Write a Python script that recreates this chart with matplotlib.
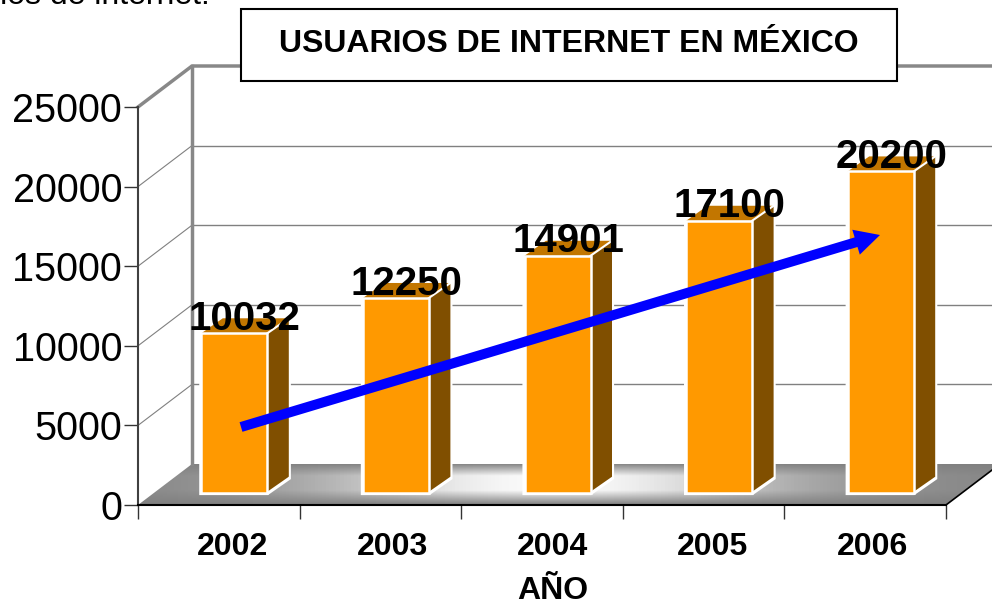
import numpy as np
import matplotlib
matplotlib.use('Agg')
import matplotlib.pyplot as plt
from matplotlib.patches import Polygon, Rectangle, FancyArrow
from matplotlib.transforms import Affine2D

plt.rcParams['font.family'] = ['Liberation Sans', 'DejaVu Sans']

years = ['2002', '2003', '2004', '2005', '2006']
usuarios = [10032, 12250, 14901, 17100, 20200]
y_ticks = [0, 5000, 10000, 15000, 20000, 25000]

W, H = 992, 602
# front plane of the fake 3d box, in pixels from top left
LEFT, RIGHT, TOP, BOTTOM = 138, 946, 107, 505
DEPTH_X, DEPTH_Y = 54, 41

fig = plt.figure(figsize=(W / 100, H / 100), dpi=100, facecolor='white')
ax = fig.add_axes([LEFT / W, 1 - BOTTOM / H, (RIGHT - LEFT) / W, (BOTTOM - TOP) / H])
n = len(years)
ax.set_xlim(0, n)
ax.set_ylim(0, 25000)
ax.patch.set_alpha(0)
for s in ['top', 'right']:
    ax.spines[s].set_visible(False)

px_x = n / (RIGHT - LEFT)
px_y = 25000 / (BOTTOM - TOP)
dx = DEPTH_X * px_x
dy = DEPTH_Y * px_y

# pixel coords -> display, for the shapes that sit on top of the chart
pix = Affine2D().scale(1, -1).translate(0, H)

# floor with gradient
xx = np.linspace(0, n + dx, 240)
yy = np.linspace(0, dy, 42)
gx, gy = np.meshgrid(xx, yy)
across = np.exp(-((gx - 2.55) / 1.45) ** 2)
band = np.clip(np.minimum(gy / (dy * 0.35), (dy - gy) / (dy * 0.3)), 0, 1)
shade = 0.5 + (0.02 + 0.46 * across) * band
floor = Polygon([(0, 0), (dx, dy), (n + dx, dy), (n, 0)], fc='none', ec='none', transform=ax.transData)
ax.add_patch(floor)
mesh = ax.pcolormesh(xx, yy, shade[:-1, :-1], cmap='gray', vmin=0, vmax=1, zorder=1)
mesh.set_clip_path(floor)
mesh.set_clip_box(fig.bbox)
ax.set_xlim(0, n)
ax.set_ylim(0, 25000)
ax.plot([n, n + dx], [0, dy], color='black', lw=1.2, zorder=2, clip_on=False)

# back wall
for v in y_ticks[1:-1]:
    ax.plot([0, dx], [v, v + dy], color='#808080', lw=0.8, zorder=1, clip_on=False)
    ax.plot([dx, n + dx], [v + dy, v + dy], color='#808080', lw=1, zorder=1, clip_on=False)
ax.plot([dx, dx], [dy, 25000 + dy], color='#888888', lw=2.5, zorder=1, clip_on=False)
ax.plot([0, dx, n + dx], [25000, 25000 + dy, 25000 + dy], color='#888888', lw=2.5, zorder=1, clip_on=False)

# bars
pos = np.arange(n) + 0.5
bar_w = 66 * px_x
side_x, side_y = 21.5 * px_x, 15 * px_y
tr = ax.transData + Affine2D().translate(15.5, 12)
lab_tr = ax.transData + Affine2D().translate(26, 12)
for p, v in zip(pos, usuarios):
    x0, x1 = p - bar_w / 2, p + bar_w / 2
    outline = [(x0, 0), (x1, 0), (x1 + side_x, side_y), (x1 + side_x, v + side_y), (x0 + side_x, v + side_y), (x0, v)]
    ax.add_patch(Polygon(outline, fc='white', ec='white', lw=3, transform=tr, zorder=3, clip_on=False))
    ax.add_patch(Polygon([(x1, 0), (x1 + side_x, side_y), (x1 + side_x, v + side_y), (x1, v)],
                         fc='#804f00', ec='none', transform=tr, zorder=3.1, clip_on=False))
    ax.add_patch(Polygon([(x0, v), (x0 + side_x, v + side_y), (x1 + side_x, v + side_y), (x1, v)],
                         fc='#c27600', ec='none', transform=tr, zorder=3.1, clip_on=False))
    ax.plot([x1, x1 + side_x], [v, v + side_y], color='white', lw=1.5, transform=tr, zorder=3.2, clip_on=False)
    ax.plot([x1, x1 + side_x], [0, side_y], color='white', lw=1.5, transform=tr, zorder=3.2, clip_on=False)
    ax.add_patch(Rectangle((x0, 0), bar_w, v, fc='#ff9900', ec='white', lw=1.8, transform=tr, zorder=4,
                           clip_on=False))
    ax.text(p, v + 900, str(v), transform=lab_tr, ha='center', va='center', fontsize=29, fontweight='bold',
            zorder=6, clip_on=False)

# axis
ax.spines['left'].set_color('#404040')
ax.spines['left'].set_linewidth(1.5)
ax.spines['bottom'].set_color('black')
ax.spines['bottom'].set_linewidth(1.5)
ax.set_yticks(y_ticks)
ax.tick_params(axis='y', labelsize=28.5, length=10, width=1, pad=1.5, color='#333333')
ax.set_xticks(range(n + 1))
ax.set_xticklabels([])
label_pos = [(c - LEFT) * px_x for c in [232, 392, 552, 712, 872]]
ax.set_xticks(label_pos, minor=True)
ax.set_xticklabels(years, minor=True, fontsize=23, fontweight='bold')
ax.tick_params(axis='x', which='major', length=10, width=1, color='#333333')
ax.tick_params(axis='x', which='minor', length=0, pad=19.5)
fig.text(553 / W, 1 - 591 / H, 'AÑO', ha='center', va='center', fontsize=23, fontweight='bold')

# trend arrow, drawn over the bars
ax.add_patch(FancyArrow(241, 427, 880 - 241, 235 - 427, width=10, head_width=26, head_length=25,
                        length_includes_head=True, fc='#0000ff', ec='none', transform=pix, zorder=5,
                        clip_on=False))

# title box
fig.add_artist(Rectangle((241 / W, 1 - 81 / H), 656 / W, 72 / H, transform=fig.transFigure, fc='white',
                         ec='black', lw=1.5, zorder=9))
fig.text(569 / W, 1 - 52 / H, 'USUARIOS DE INTERNET EN MÉXICO', ha='center', va='baseline', fontsize=23,
         fontweight='bold', zorder=10)

# cut off text at the top of the page
fig.text(210 / W, 1 - 4 / H, 'usuarios de internet.', ha='right', va='baseline', fontsize=23, zorder=10)

fig.savefig('out.png', dpi=100)
